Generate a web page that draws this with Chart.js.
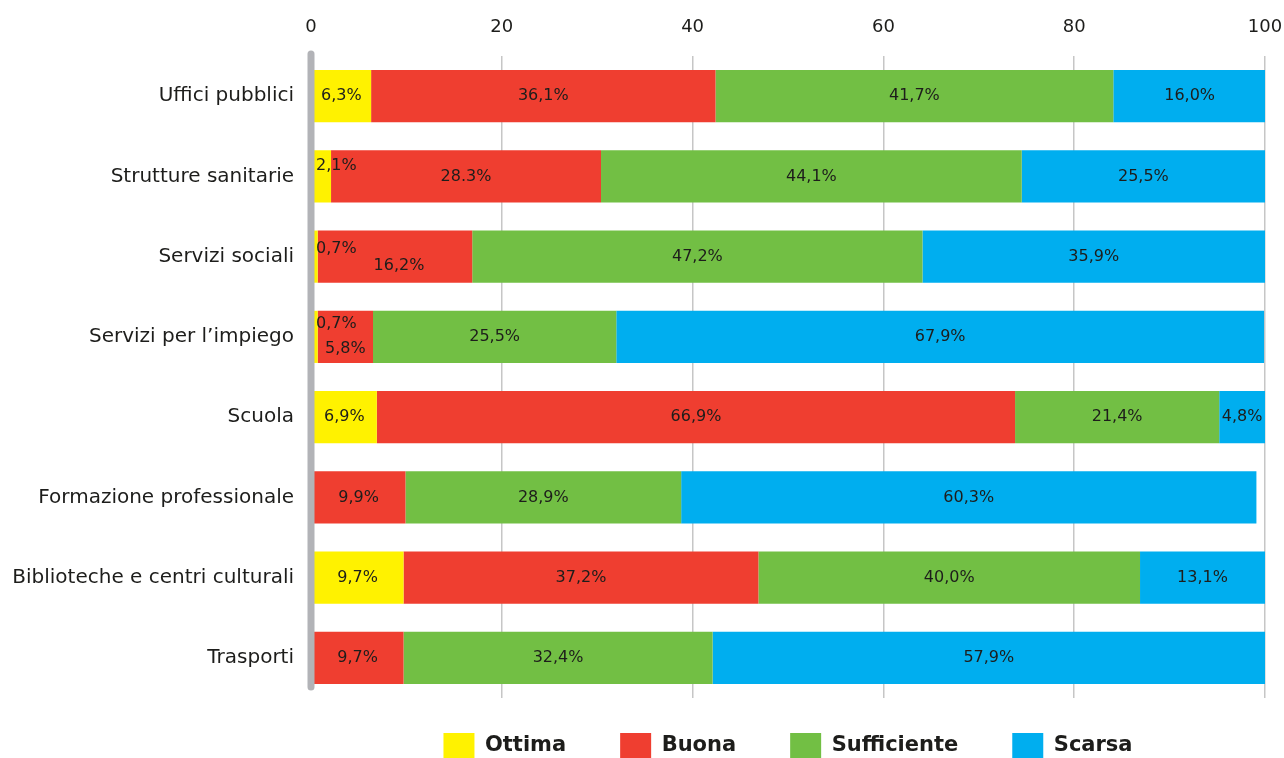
<!DOCTYPE html>
<html>
<head>
<meta charset="utf-8">
<script src="https://cdn.jsdelivr.net/npm/chart.js@4"></script>
<style>
body{margin:0;background:#fff}
#box{width:1284px;height:758px}
</style>
</head>
<body>
<div id="box"><canvas id="barre"></canvas></div>
<script>
var categorie = ["Uffici pubblici","Strutture sanitarie","Servizi sociali","Servizi per l’impiego","Scuola","Formazione professionale","Biblioteche e centri culturali","Trasporti"]
var serie = ["Ottima","Buona","Sufficiente","Scarsa"]
var ottima = [6.3,2.1,0.7,0.7,6.9,0,9.7,0]
var buona = [36.1,28.3,16.2,5.8,66.9,9.9,37.2,9.7]
var sufficiente = [41.7,44.1,47.2,25.5,21.4,28.9,40.0,32.4]
var scarsa = [16.0,25.5,35.9,67.9,4.8,60.3,13.1,57.9]
var tacche = [0,20,40,60,80,100]

var colori = ["#fff200","#ef3e30","#72bf44","#00aeef"]
var police = "'DejaVu Sans', sans-serif"
Chart.defaults.font.family = police

// etichette spostate a mano (dataset-indice)
var ritocchi = {
	"0-1": {dy:-11, sinistra:true},
	"0-2": {dy:-8, sinistra:true},
	"1-2": {dy:9, dx:4},
	"0-3": {dy:-13, sinistra:true},
	"1-3": {dy:12}
}
var testi = {"1-1":"28.3%"}

function formato(v){
	return v.toFixed(1).replace(".", ",") + "%"
}

var asse = {
	id: "asse",
	afterDatasetsDraw: function(chart){
		var ctx = chart.ctx
		var x = chart.scales.x.getPixelForValue(0)
		var area = chart.chartArea
		ctx.save()
		ctx.strokeStyle = "#b2b3b7"
		ctx.lineWidth = 7
		ctx.lineCap = "round"
		ctx.beginPath()
		ctx.moveTo(x, area.top - 2)
		ctx.lineTo(x, area.bottom - 11)
		ctx.stroke()
		ctx.restore()
	}
}

// la legenda scende sotto il grafico
var giu = {
	id: "giu",
	afterLayout: function(chart){
		var lg = chart.legend
		lg.top = chart.chartArea.bottom + 35 - lg.options.labels.padding
		lg.bottom = chart.height
		lg.height = lg.bottom - lg.top
	}
}

var etichette = {
	id: "etichette",
	afterDatasetsDraw: function(chart){
		var ctx = chart.ctx
		var x0 = chart.scales.x.getPixelForValue(0)
		ctx.save()
		ctx.font = "16px " + police
		ctx.fillStyle = "#1d1d1b"
		ctx.textBaseline = "middle"
		chart.data.datasets.forEach(function(ds, d){
			var meta = chart.getDatasetMeta(d)
			meta.data.forEach(function(bar, i){
				var v = ds.data[i]
				if(!v) return
				var cle = d + "-" + i
				var r = ritocchi[cle] || {}
				var t = testi[cle] || formato(v)
				var x = (bar.x + bar.base) / 2 + (r.dx || 0)
				ctx.textAlign = "center"
				if(r.sinistra){
					x = x0 + 5
					ctx.textAlign = "left"
				}
				ctx.fillText(t, x, bar.y + (r.dy || 0))
			})
		})
		ctx.restore()
	}
}

var valori = [ottima, buona, sufficiente, scarsa]
var jeux = []
for(var i=0;i<serie.length;i++){
	jeux.push({label: serie[i], data: valori[i], backgroundColor: colori[i], borderWidth: 0, barPercentage: 0.65, categoryPercentage: 1})
}

new Chart("barre", {
	type: "bar",
	data: {labels: categorie, datasets: jeux},
	plugins: [asse, etichette, giu],
	options: {
		indexAxis: "y",
		responsive: true,
		maintainAspectRatio: false,
		animation: false,
		layout: {padding: 0},
		scales: {
			x: {
				position: "top",
				stacked: true,
				min: 0, max: 100,
				afterBuildTicks: function(s){ s.ticks = tacche.map(function(v){ return {value: v} }) },
				afterFit: function(s){
					s.height = 56
					s.paddingLeft = 0
					s.paddingRight = 19
				},
				border: {display: false},
				grid: {
					drawTicks: false,
					lineWidth: 1.5,
					color: function(c){ return c.tick && c.tick.value === 0 ? "rgba(0,0,0,0)" : "#c6c6c6" }
				},
				ticks: {padding: 18, color: "#1d1d1b", font: {size: 18}}
			},
			y: {
				stacked: true,
				afterFit: function(s){ s.width = 311 },
				border: {display: false},
				grid: {display: false, drawTicks: false},
				ticks: {padding: 17, color: "#1d1d1b", font: {size: 20}}
			}
		},
		plugins: {
			tooltip: {enabled: false},
			legend: {
				position: "bottom",
				fullSize: false,
				maxHeight: 60,
				labels: {
					boxWidth: 31, boxHeight: 25, padding: 54,
					color: "#1d1d1b",
					font: {size: 21, weight: "bold"}
				}
			}
		}
	}
})
</script>
</body>
</html>
